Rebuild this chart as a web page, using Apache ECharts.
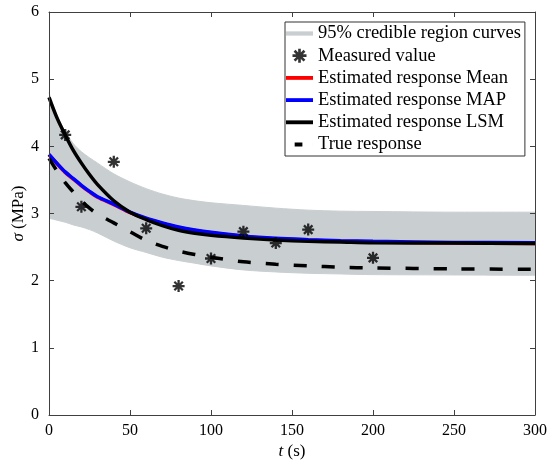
<!DOCTYPE html>
<html>
<head>
<meta charset="utf-8">
<script src="https://cdn.jsdelivr.net/npm/echarts@6/dist/echarts.min.js"></script>
<style>
html,body{margin:0;padding:0;background:#fff;}
#c{width:549px;height:468px;}
</style>
</head>
<body>
<div id="c"></div>
<script>
// time grid (s) for the curves
var tGrid = [0,5,10,15,20,25,30,40,50,60,70,80,90,100,120,140,160,180,200,250,300];
// 95% credible region bounds (MPa)
var bandUpper = [4.80,4.46,4.22,4.04,3.92,3.83,3.75,3.59,3.47,3.37,3.29,3.23,3.19,3.16,3.12,3.08,3.05,3.035,3.03,3.02,3.02];
var bandLower = [2.93,2.90,2.87,2.83,2.80,2.76,2.71,2.59,2.49,2.42,2.35,2.30,2.26,2.22,2.16,2.13,2.11,2.10,2.09,2.085,2.08];
// estimated responses
var meanResp = [3.875,3.74,3.612,3.512,3.412,3.322,3.242,3.132,3.012,2.922,2.852,2.792,2.747,2.712,2.657,2.622,2.602,2.587,2.577,2.562,2.555];
var mapResp  = [3.88,3.745,3.62,3.52,3.42,3.33,3.25,3.14,3.02,2.93,2.86,2.80,2.755,2.72,2.665,2.63,2.61,2.595,2.585,2.57,2.565];
var lsmResp  = [4.73,4.42,4.17,3.94,3.75,3.58,3.43,3.19,3.02,2.91,2.82,2.75,2.705,2.675,2.635,2.605,2.585,2.575,2.565,2.56,2.555];
var trueResp = [3.82,3.63,3.46,3.32,3.19,3.08,2.99,2.86,2.73,2.60,2.51,2.44,2.39,2.35,2.28,2.245,2.22,2.20,2.19,2.175,2.17];
// measured values
var measT = [10,20,40,60,80,100,120,140,160,200];
var measV = [4.17,3.10,3.77,2.78,1.92,2.33,2.73,2.56,2.76,2.34];
// axis ticks
var xTicks = [0,50,100,150,200,250,300];
var yTicks = [0,1,2,3,4,5,6];

function pairs(xs, ys){ return xs.map(function(x,i){ return [x, ys[i]]; }); }

var FONT = '"Liberation Serif", "Times New Roman", serif';
var AX = '#404040';
var BAND = '#c9ced1';
var STAR = 'path://M-1.9,-10L1.9,-10L1.9,10L-1.9,10Z M-10,-1.9L10,-1.9L10,1.9L-10,1.9Z M-8.42,-5.73L-5.73,-8.42L8.42,5.73L5.73,8.42Z M-5.73,8.42L-8.42,5.73L5.73,-8.42L8.42,-5.73Z';
var LINE_ICON = 'path://M0,0H28V4H0Z';
var BAND_ICON = 'path://M0,0H28V4.4H0Z';
var DASH_ICON = 'path://M0,0H0.01V4H0Z M9,0H17V4H9Z M27.99,0H28V4H27.99Z';

var names = ['95% credible region curves','Measured value','Estimated response Mean','Estimated response MAP','Estimated response LSM','True response'];

var chart = echarts.init(document.getElementById('c'), null, {renderer:'canvas'});
var axisCommon = {
  type:'value', z:10,
  axisLine:{show:true, onZero:false, lineStyle:{color:AX, width:1}},
  axisTick:{show:true, inside:true, length:5, lineStyle:{color:AX}},
  splitLine:{show:false}
};
chart.setOption({
  animation:false,
  backgroundColor:'#fff',
  textStyle:{fontFamily:FONT},
  grid:{left:49, right:14, top:12, bottom:53, containLabel:false, outerBoundsMode:'none'},
  xAxis:[
    Object.assign({}, axisCommon, {
      min:xTicks[0], max:xTicks[xTicks.length-1], interval:50, position:'bottom',
      axisLabel:{show:true, color:'#000', fontFamily:FONT, fontSize:16, margin:8},
      name:'{i|t} (s)', nameLocation:'middle', nameGap:28, nameMoveOverlap:false,
      nameTextStyle:{color:'#000', fontFamily:FONT, fontSize:17, rich:{i:{fontStyle:'italic', fontFamily:FONT, fontSize:17, color:'#000'}}}
    }),
    Object.assign({}, axisCommon, {
      min:xTicks[0], max:xTicks[xTicks.length-1], interval:50, position:'top',
      axisLabel:{show:false}
    })
  ],
  yAxis:[
    Object.assign({}, axisCommon, {
      min:yTicks[0], max:yTicks[yTicks.length-1], interval:1, position:'left',
      axisLabel:{show:true, color:'#000', fontFamily:FONT, fontSize:16, margin:10},
      name:'{i|σ} (MPa)', nameLocation:'middle', nameGap:22, nameRotate:90, nameMoveOverlap:false,
      nameTextStyle:{color:'#000', fontFamily:FONT, fontSize:17, rich:{i:{fontStyle:'italic', fontFamily:FONT, fontSize:17, color:'#000'}}}
    }),
    Object.assign({}, axisCommon, {
      min:yTicks[0], max:yTicks[yTicks.length-1], interval:1, position:'right',
      axisLabel:{show:false}
    })
  ],
  legend:{
    left:285, top:22, orient:'vertical', z:20,
    backgroundColor:'#fff', borderColor:'#333', borderWidth:1,
    padding:[2,4,2,1], itemGap:3.2, itemWidth:27, itemHeight:14,
    textStyle:{fontFamily:FONT, fontSize:18.5, color:'#000'},
    selectedMode:false,
    data:[
      {name:names[0], icon:BAND_ICON, itemStyle:{color:BAND}},
      {name:names[1]},
      {name:names[2], icon:LINE_ICON, itemStyle:{color:'#ff0000'}},
      {name:names[3], icon:LINE_ICON, itemStyle:{color:'#0000ff'}},
      {name:names[4], icon:LINE_ICON, itemStyle:{color:'#000'}},
      {name:names[5], icon:DASH_ICON, itemStyle:{color:'#000'}}
    ]
  },
  series:[
    {name:names[0], type:'line', data:pairs(tGrid, bandUpper), smooth:0.3, symbol:'none',
     lineStyle:{width:1, color:BAND}, itemStyle:{color:BAND}, areaStyle:{color:BAND, opacity:1, origin:'start'}, z:1},
    {name:'band-lower', type:'line', data:pairs(tGrid, bandLower), smooth:0.3, symbol:'none',
     lineStyle:{width:1, color:BAND}, areaStyle:{color:'#fff', opacity:1, origin:'start'}, silent:true, z:1.5},
    {name:names[2], type:'line', data:pairs(tGrid, meanResp), smooth:0.3, symbol:'none',
     lineStyle:{color:'#ff0000', width:3.5}, itemStyle:{color:'#ff0000'}, z:3},
    {name:names[3], type:'line', data:pairs(tGrid, mapResp), smooth:0.3, symbol:'none',
     lineStyle:{color:'#0000ff', width:3.5}, itemStyle:{color:'#0000ff'}, z:4},
    {name:names[4], type:'line', data:pairs(tGrid, lsmResp), smooth:0.3, symbol:'none',
     lineStyle:{color:'#000', width:3.5}, itemStyle:{color:'#000'}, z:5},
    {name:names[5], type:'line', data:pairs(tGrid, trueResp), smooth:0.3, symbol:'none',
     lineStyle:{color:'#000', width:3.5, type:[13,15]}, itemStyle:{color:'#000'}, z:5},
    {name:names[1], type:'scatter', data:pairs(measT, measV), symbol:STAR, symbolSize:12,
     itemStyle:{color:'#000'}, z:6}
  ]
});
</script>
</body>
</html>
